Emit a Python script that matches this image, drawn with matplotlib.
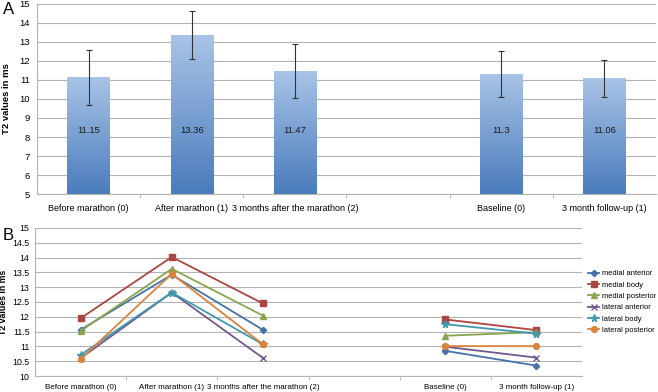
import numpy as np
import matplotlib.pyplot as plt
from matplotlib.colors import LinearSegmentedColormap

plt.rcParams['font.family'] = ['Liberation Sans', 'DejaVu Sans']

# panel A data
cats_a = ["Before marathon (0)", "After marathon (1)", "3 months after the marathon (2)",
          "", "Baseline (0)", "3 month follow-up (1)"]
bar_pos = [0, 1, 2, 4, 5]
bar_vals = [11.15, 13.36, 11.47, 11.3, 11.06]
bar_err = [1.45, 1.28, 1.42, 1.2, 0.97]
bar_labels = ["11.15", "13.36", "11.47", "11.3", "11.06"]

# panel B data (slot 3 is the gap between the two studies)
cats_b = cats_a
series_names = ["medial anterior", "medial body", "medial posterior",
                "lateral anterior", "lateral body", "lateral posterior"]
medial_anterior = [11.56, 13.42, 11.56, np.nan, 10.85, 10.35]
medial_body = [11.95, 14.02, 12.45, np.nan, 11.91, 11.55]
medial_posterior = [11.52, 13.62, 12.04, np.nan, 11.36, 11.48]
lateral_anterior = [10.60, 12.82, 10.61, np.nan, 10.99, 10.62]
lateral_body = [10.71, 12.82, 11.07, np.nan, 11.75, 11.43]
lateral_posterior = [10.57, 13.45, 11.07, np.nan, 11.01, 11.01]
series = [medial_anterior, medial_body, medial_posterior,
          lateral_anterior, lateral_body, lateral_posterior]

colors = ["#4572A7", "#AA4643", "#89A54E", "#71588F", "#4198AF", "#DB843D"]
markers = ["D", "s", "^", "x", "*", "o"]
msizes = [3.2, 4.2, 4.2, 4.2, 5.5, 4.2]

grid_c = "#b3b3b3"
fig = plt.figure(figsize=(6.58, 3.92), dpi=100)

# ---------------- panel A ----------------
ax = fig.add_axes([0.0562, 0.5051, 0.9407, 0.4847])
cmap = LinearSegmentedColormap.from_list("bar", ["#4a7cbd", "#a8c3e6"])
grad = np.linspace(0, 1, 100).reshape(-1, 1)
w = 0.41
for x, v, e, lab in zip(bar_pos, bar_vals, bar_err, bar_labels):
    ax.imshow(grad, cmap=cmap, origin="lower", aspect="auto",
              extent=[x - w / 2, x + w / 2, 5, v], zorder=2)
    ax.errorbar(x, v, yerr=e, color="#333333", lw=0.8, capsize=2, capthick=0.8, zorder=3)
    ax.text(x, 8.35, lab, ha="center", va="center", fontsize=6.8, color="#1a1a1a", zorder=4)

ax.set_xlim(-0.5, 5.5)
ax.set_ylim(5, 15)
ax.set_yticks(range(5, 16))
ax.tick_params(axis="y", labelsize=6.8, length=0, pad=5)
ax.set_xticks(np.arange(0.5, 5, 1), minor=True)
ax.set_xticks(range(6))
ax.set_xticklabels(cats_a, fontsize=6.5)
ax.tick_params(axis="x", which="major", length=0, pad=7)
ax.tick_params(axis="x", which="minor", length=3, color=grid_c)
ax.grid(axis="y", color=grid_c, lw=0.8, zorder=0)
ax.set_axisbelow(True)
for s in ["top", "right"]:
    ax.spines[s].set_visible(False)
for s in ["left", "bottom"]:
    ax.spines[s].set_color(grid_c)
ax.set_ylabel("T2 values in ms", fontsize=6.8, fontweight="bold", labelpad=6)
fig.text(0.004, 0.976, "A", fontsize=12, va="center")

# ---------------- panel B ----------------
bx = fig.add_axes([0.0532, 0.0408, 0.8313, 0.3776])
x = np.arange(6)
for vals, name, c, m, ms in zip(series, series_names, colors, markers, msizes):
    bx.plot(x, vals, color=c, marker=m, markersize=ms, lw=1.3, label=name,
            markeredgecolor=c)
bx.set_xlim(-0.5, 5.5)
bx.set_ylim(10, 15)
bx.set_yticks(np.arange(10, 15.01, 0.5))
bx.set_yticklabels(["10", "10.5", "11", "11.5", "12", "12.5", "13", "13.5", "14", "14.5", "15"])
bx.tick_params(axis="y", labelsize=6.3, length=0, pad=4)
bx.set_xticks(np.arange(0.5, 5, 1), minor=True)
bx.set_xticks(range(6))
bx.set_xticklabels(cats_b, fontsize=5.8)
bx.tick_params(axis="x", which="major", length=0, pad=6)
bx.tick_params(axis="x", which="minor", length=3, color=grid_c)
bx.grid(axis="y", color=grid_c, lw=0.8)
bx.set_axisbelow(True)
for s in ["top", "right"]:
    bx.spines[s].set_visible(False)
for s in ["left", "bottom"]:
    bx.spines[s].set_color(grid_c)
bx.set_ylabel("T2 values in ms", fontsize=6.3, fontweight="bold", labelpad=3)
bx.legend(loc="center left", bbox_to_anchor=(1.0, 0.5), frameon=False, fontsize=5.4,
          handlelength=1.5, handletextpad=0.3, labelspacing=0.55, borderaxespad=0.4)
fig.text(0.004, 0.398, "B", fontsize=12, va="center")

fig.savefig("out.png", dpi=100)
